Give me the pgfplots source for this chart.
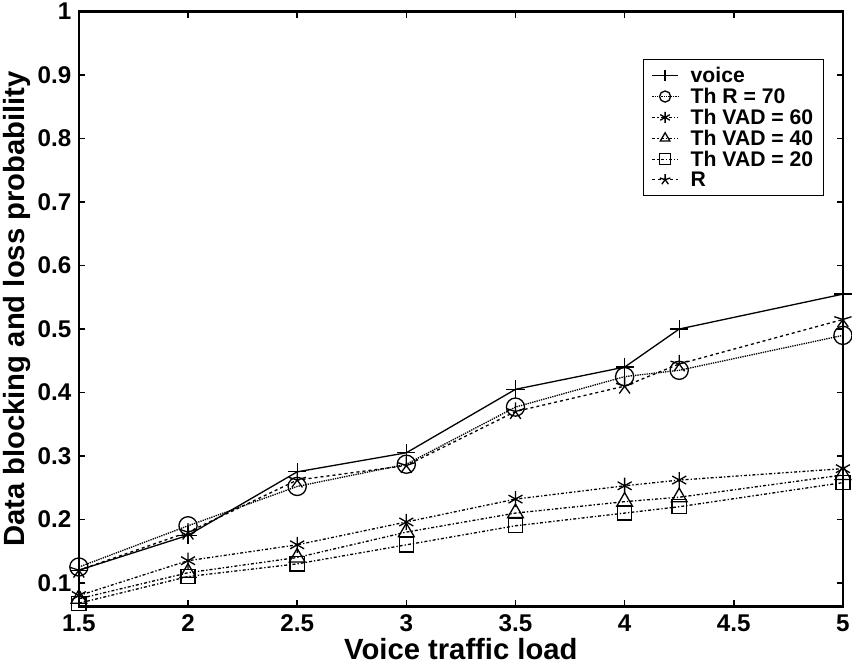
\documentclass[border=0pt]{standalone}
\usepackage{pgfplots}
\pgfplotsset{compat=1.18}
\usepackage{fontspec}
\setmainfont{Liberation Sans}
\usetikzlibrary{plotmarks}
\begin{document}
\begin{tikzpicture}
\begin{axis}[
  scale only axis,
  width=758pt, height=590pt,
  xmin=1.5, xmax=5, ymin=0.063, ymax=1,
  xtick={1.5,2,2.5,3,3.5,4,4.5,5},
  ytick={0.1,0.2,0.3,0.4,0.5,0.6,0.7,0.8,0.9,1},
  xticklabels={1.5,2,2.5,3,3.5,4,4.5,5},
  yticklabels={0.1,0.2,0.3,0.4,0.5,0.6,0.7,0.8,0.9,1},
  tick align=inside,
  major tick length=6pt,
  axis line style={line width=2.6pt},
  every tick/.style={line width=1.5pt, black},
  tick label style={font=\fontsize{24}{26}\selectfont\bfseries},
  /pgf/number format/assume math mode=true,
  xlabel={Voice traffic load},
  ylabel={Data blocking and loss probability},
  label style={font=\fontsize{29}{31}\selectfont\bfseries},
  xlabel style={yshift=-4pt, inner sep=1pt, text depth=6pt},
  ylabel style={yshift=0pt},
  xticklabel style={yshift=-7pt, inner sep=1pt},
  yticklabel style={xshift=-4pt},
  legend style={at={(0.975,0.921)}, anchor=north east, draw=black, line width=1pt,
    font=\fontsize{21}{25}\selectfont\bfseries, row sep=0pt, inner xsep=8pt, inner ysep=6pt,
    /tikz/every odd column/.append style={column sep=10pt}},
  legend cell align=left,
  legend image code/.code={\draw[mark repeat=2, mark phase=2, line width=1.2pt, #1, mark size=5.5pt] plot coordinates {(0cm,0cm) (0.45cm,0cm) (0.9cm,0cm)};},
  every axis plot/.append style={line width=1.3pt, black},
  clip=false,
]
\addplot[solid, mark=+, mark size=9pt, mark options={solid, line width=1.3pt}] coordinates {
(1.5,0.120) (2,0.175) (2.5,0.275) (3,0.305) (3.5,0.405) (4,0.440) (4.25,0.500) (5,0.555)};
\addlegendentry{voice}
\addplot[densely dotted, mark=o, mark size=9pt, mark options={solid, line width=1.3pt}] coordinates {
(1.5,0.125) (2,0.190) (2.5,0.252) (3,0.287) (3.5,0.377) (4,0.425) (4.25,0.435) (5,0.490)};
\addlegendentry{Th R = 70}
\addplot[dash dot, mark=asterisk, mark size=8pt, mark options={solid, line width=1.3pt}] coordinates {
(1.5,0.080) (2,0.135) (2.5,0.160) (3,0.196) (3.5,0.232) (4,0.253) (4.25,0.262) (5,0.280)};
\addlegendentry{Th VAD = 60}
\addplot[dash dot, mark=triangle, mark size=9pt, mark options={solid, line width=1.3pt}] coordinates {
(1.5,0.075) (2,0.116) (2.5,0.140) (3,0.180) (3.5,0.210) (4,0.228) (4.25,0.235) (5,0.270)};
\addlegendentry{Th VAD = 40}
\addplot[dash dot, mark=square, mark size=7pt, mark options={solid, line width=1.3pt}] coordinates {
(1.5,0.068) (2,0.110) (2.5,0.130) (3,0.160) (3.5,0.190) (4,0.210) (4.25,0.220) (5,0.258)};
\addlegendentry{Th VAD = 20}
\addplot[dashed, mark=star, mark size=9pt, mark options={solid, line width=1.3pt}] coordinates {
(1.5,0.120) (2,0.180) (2.5,0.262) (3,0.285) (3.5,0.370) (4,0.410) (4.25,0.445) (5,0.515)};
\addlegendentry{R}
\end{axis}
\end{tikzpicture}
\end{document}
